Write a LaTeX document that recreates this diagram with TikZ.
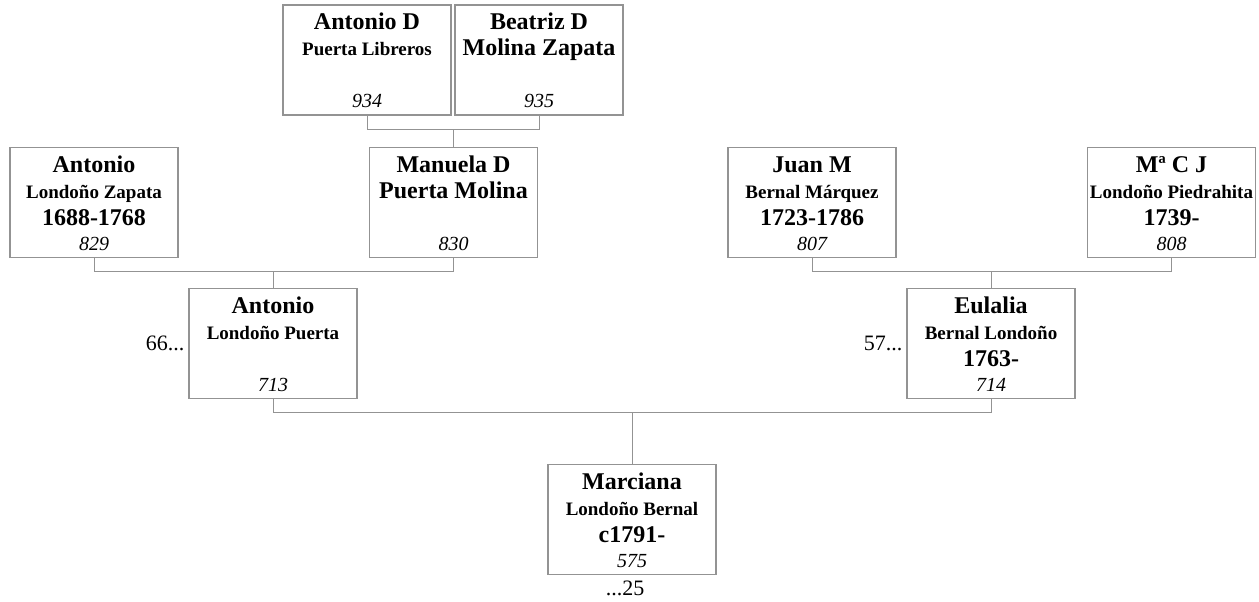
\documentclass[tikz,border=0pt]{standalone}
\usepackage{fontspec}
\setmainfont{Liberation Serif}
\usetikzlibrary{calc}
\tikzstyle{person} = [rectangle, draw=gray!85, line width=1.1pt, minimum width=168pt, minimum height=110pt, inner sep=0pt]
\tikzstyle{given} = [anchor=base, inner sep=0pt, font=\fontsize{24}{28}\selectfont\bfseries]
\tikzstyle{family} = [anchor=base, inner sep=0pt, font=\fontsize{19}{22}\selectfont\bfseries]
\tikzstyle{refno} = [anchor=base, inner sep=0pt, font=\fontsize{20}{24}\selectfont\itshape]
\tikzstyle{link} = [draw=gray!85, line width=1pt]
\tikzstyle{more} = [inner sep=0pt, font=\fontsize{22}{26}\selectfont]
\newcommand{\person}[7]{%
  \node (#1)[person] at (#2) {};
  \node (#1-given)[given] at ($(#1.north)+(0,-25.5)$) {#3};
  \node (#1-family)[#4] at ($(#1.north)+(0,-51.5)$) {#5};
  \node (#1-years)[given] at ($(#1.north)+(0,-78.5)$) {#6};
  \node (#1-no)[refno] at ($(#1.north)+(0,-103.5)$) {#7};
}
\begin{document}
\begin{tikzpicture}[x=1pt, y=1pt]
    \useasboundingbox (0,0) rectangle (1259,602);
    \person{p934}{367,542}{Antonio D}{family}{Puerta Libreros}{}{934}
    \person{p935}{539,542}{Beatriz D}{given}{Molina Zapata}{}{935}
    \person{p829}{94,399.5}{Antonio}{family}{Londoño Zapata}{1688-1768}{829}
    \person{p830}{453.5,399.5}{Manuela D}{given}{Puerta Molina}{}{830}
    \person{p807}{812,399.5}{Juan M}{family}{Bernal Márquez}{1723-1786}{807}
    \person{p808}{1171.5,399.5}{Mª C J}{family}{Londoño Piedrahita}{1739-}{808}
    \person{p713}{273,258.5}{Antonio}{family}{Londoño Puerta}{}{713}
    \person{p714}{991,258.5}{Eulalia}{family}{Bernal Londoño}{1763-}{714}
    \person{p575}{632,82.5}{Marciana}{family}{Londoño Bernal}{c1791-}{575}
    \node (up713)[more, anchor=base east] at ($(p713.west)+(-4,-7.5)$) {66...};
    \node (up714)[more, anchor=base east] at ($(p714.west)+(-4,-7.5)$) {57...};
    \node (down575)[more, anchor=base] at ($(p575.south)+(-7,-20.5)$) {...25};
    \coordinate (j830) at ($(p830.north)+(0,17.5)$);
    \coordinate (j713) at ($(p713.north)+(0,16.5)$);
    \coordinate (j714) at ($(p714.north)+(0,16.5)$);
    \coordinate (j575) at ($(p575.north)+(0,51.5)$);
    \draw [link] (p934.south) |- (j830) -| (p935.south);
    \draw [link] (j830) -- (p830.north);
    \draw [link] (p829.south) |- (j713) -| (p830.south);
    \draw [link] (j713) -- (p713.north);
    \draw [link] (p807.south) |- (j714) -| (p808.south);
    \draw [link] (j714) -- (p714.north);
    \draw [link] (p713.south) |- (j575) -| (p714.south);
    \draw [link] (j575) -- (p575.north);
\end{tikzpicture}
\end{document}
